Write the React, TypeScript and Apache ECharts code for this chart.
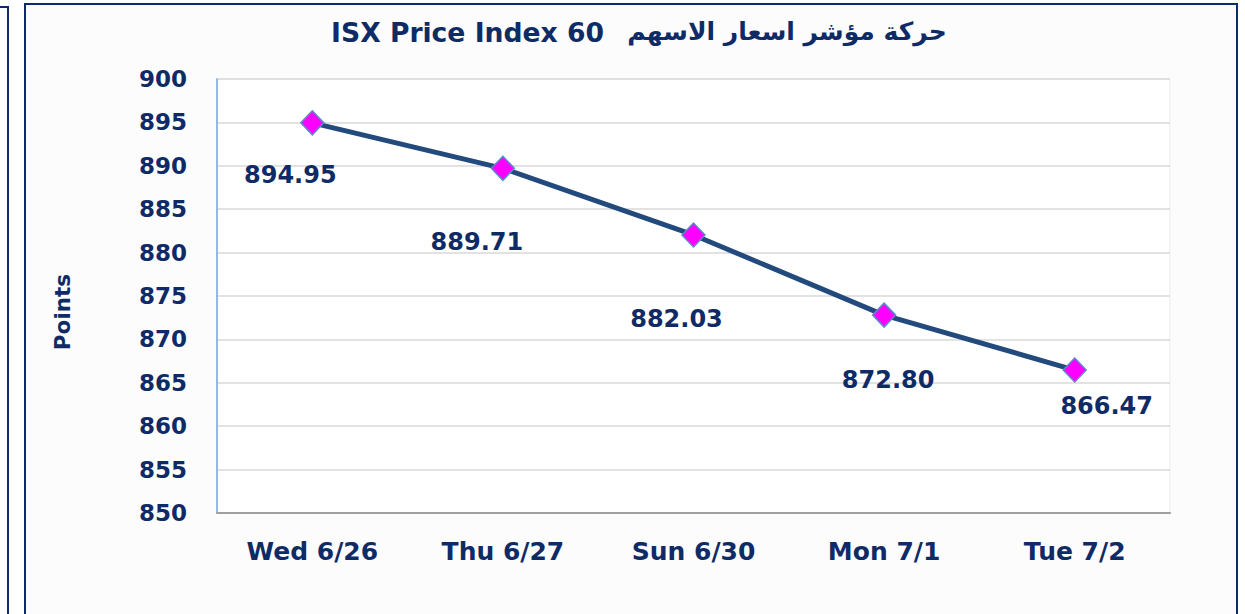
import React, { useEffect, useRef } from "react";
import * as echarts from "echarts";

const categories = ["Wed 6/26", "Thu 6/27", "Sun 6/30", "Mon 7/1", "Tue 7/2"];
const values = [894.95, 889.71, 882.03, 872.8, 866.47];
const valueLabels = ["894.95", "889.71", "882.03", "872.80", "866.47"];
const yMin = 850;
const yMax = 900;
const yStep = 5;
const titleLatin = "ISX Price Index 60";
const titleArabic = "حركة مؤشر اسعار الاسهم";
const yAxisName = "Points";

const NAVY = "#0f2b65";
const FONT = "'DejaVu Sans', sans-serif";
const labelOffsets = [
  [-22, 52],
  [-26, 74],
  [-17, 84],
  [4, 65],
  [32, 36],
];

export default function App() {
  const ref = useRef<HTMLDivElement>(null);
  useEffect(() => {
    if (!ref.current) return;
    const chart = echarts.init(ref.current, null, { renderer: "svg" });
    chart.setOption({
      animation: false,
      backgroundColor: "#ffffff",
      graphic: [
        {
          type: "rect",
          z: -10,
          shape: { x: -20, y: 7, width: 28, height: 640 },
          style: { fill: "#ffffff", stroke: "#0e2a6b", lineWidth: 2 },
        },
        {
          type: "rect",
          z: -10,
          shape: { x: 25, y: 4, width: 1212, height: 640 },
          style: { fill: "#fcfcfd", stroke: "#0e2a6b", lineWidth: 2 },
        },
        {
          type: "text",
          x: 604,
          y: 32,
          style: {
            text: titleLatin,
            fill: NAVY,
            font: `bold 26.6px ${FONT}`,
            align: "right",
            verticalAlign: "middle",
          },
        },
        {
          type: "text",
          x: 787,
          y: 31,
          style: {
            text: titleArabic,
            fill: NAVY,
            font: `bold 25px ${FONT}`,
            align: "center",
            verticalAlign: "middle",
          },
        },
        {
          type: "text",
          x: 62,
          y: 312,
          rotation: Math.PI / 2,
          style: {
            text: yAxisName,
            fill: NAVY,
            font: `bold 21.5px ${FONT}`,
            align: "center",
            verticalAlign: "middle",
          },
        },
      ],
      grid: {
        left: 217,
        top: 79,
        width: 953,
        height: 434,
        show: true,
        backgroundColor: "#ffffff",
        borderColor: "#ebebeb",
        borderWidth: 1,
      },
      xAxis: {
        type: "category",
        data: categories,
        boundaryGap: true,
        axisLine: { show: true, lineStyle: { color: "#a0a0a0", width: 2 } },
        axisTick: { show: false },
        axisLabel: {
          color: NAVY,
          fontSize: 25,
          fontWeight: "bold",
          fontFamily: FONT,
          margin: 26,
        },
      },
      yAxis: {
        type: "value",
        min: yMin,
        max: yMax,
        interval: yStep,
        axisLine: { show: true, lineStyle: { color: "#76a5dc", width: 1.5 } },
        axisTick: { show: false },
        splitLine: { show: true, lineStyle: { color: "#d9d9d9", width: 1.5 } },
        axisLabel: {
          color: NAVY,
          fontSize: 23,
          fontWeight: "bold",
          fontFamily: FONT,
          margin: 30,
        },
      },
      series: [
        {
          type: "line",
          data: values.map((v, i) => ({
            value: v,
            label: {
              show: true,
              position: "inside",
              offset: labelOffsets[i],
              formatter: valueLabels[i],
            },
          })),
          lineStyle: { color: "#234a7c", width: 5 },
          symbol: "diamond",
          symbolSize: [23, 24],
          itemStyle: { color: "#ff00ff", borderColor: "#5b8ac8", borderWidth: 1.5 },
          label: {
            color: NAVY,
            fontSize: 24,
            fontWeight: "bold",
            fontFamily: FONT,
            align: "center",
            verticalAlign: "middle",
          },
          z: 3,
        },
      ],
    });
    return () => chart.dispose();
  }, []);
  return (
    <div
      ref={ref}
      style={{ position: "fixed", left: 0, top: 0, width: 1245, height: 614 }}
    />
  );
}
